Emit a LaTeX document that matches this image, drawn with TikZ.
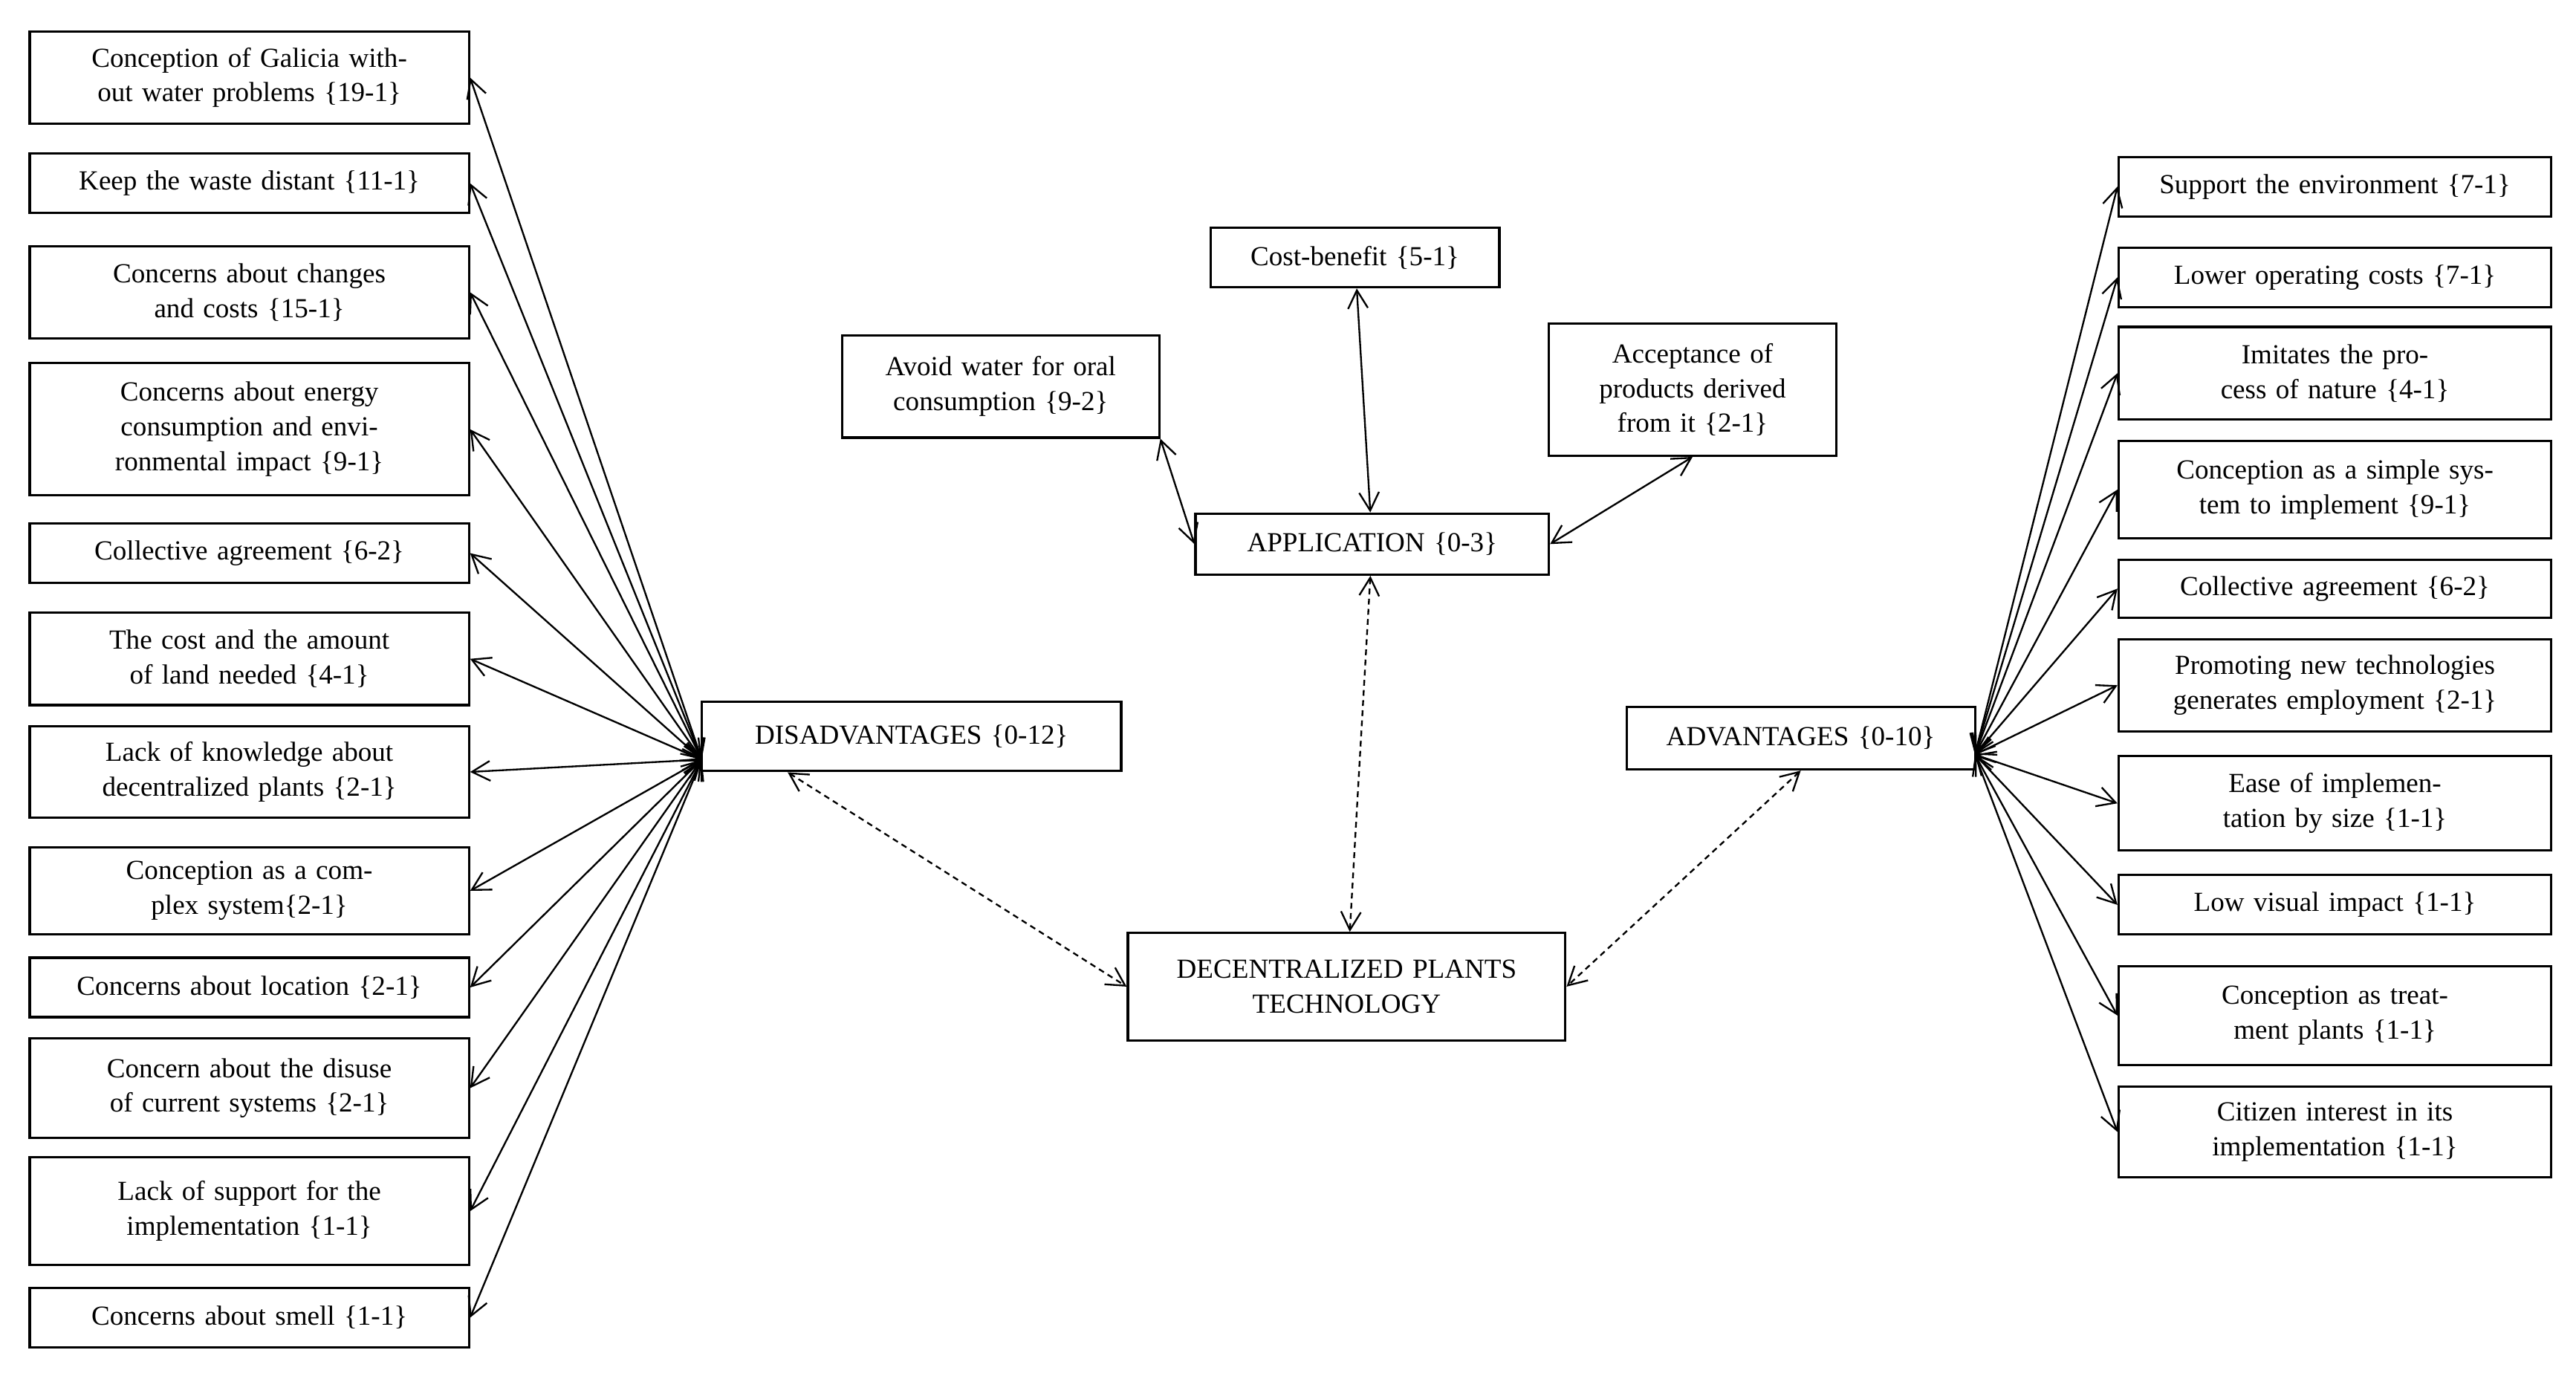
\documentclass[tikz,border=0pt]{standalone}
\usepackage{fontspec}
\setmainfont{Liberation Serif}
\usetikzlibrary{positioning}
\usetikzlibrary{arrows.meta}
\tikzset{
box/.style 2 args={draw,rectangle,thick,align=center,minimum width=#1,text width=#1-0.5cm,minimum height=#2,inner sep=1pt,font=\fontsize{9.5}{12}\selectfont},
link/.style={{Straight Barb[length=2.2mm,width=2.4mm]}-{Straight Barb[length=2.2mm,width=2.4mm]},semithick},
dlink/.style={link,dashed,dash pattern=on 2pt off 1.5pt},
}
\begin{document}
\begin{tikzpicture}
\useasboundingbox (0,0) rectangle (31.2,-16.66);
%Place the nodes
\node[box={5.08cm}{0.84cm}] (dis) at (11.04,-8.92) {DISADVANTAGES \{0-12\}};
\node[box={4.22cm}{0.76cm}] (adv) at (21.81,-8.94) {ADVANTAGES \{0-10\}};
\node[box={4.28cm}{0.74cm}] (app) at (16.62,-6.59) {APPLICATION \{0-3\}};
\node[box={5.3cm}{1.3cm}] (dec) at (16.31,-11.95) {DECENTRALIZED PLANTS\\TECHNOLOGY};
\node[box={3.5cm}{0.72cm}] (cost) at (16.41,-3.12) {Cost-benefit \{5-1\}};
\node[box={3.84cm}{1.24cm}] (avoid) at (12.12,-4.68) {Avoid water for oral consumption \{9-2\}};
\node[box={3.48cm}{1.6cm}] (accept) at (20.5,-4.72) {Acceptance of products derived from it \{2-1\}};
\coordinate (hubL) at (8.5,-9.2);
\coordinate (hubR) at (23.92,-9.14);

%left column
\foreach \y/\h/\t [count=\i] in {
-0.94/1.12/Conception of Galicia without water problems \{19-1\},
-2.22/0.72/Keep the waste distant \{11-1\},
-3.54/1.12/Concerns about changes and costs \{15-1\},
-5.2/1.6/Concerns about energy consumption and environmental impact \{9-1\},
-6.7/0.72/Collective agreement \{6-2\},
-7.98/1.12/The cost and the amount of land needed \{4-1\},
-9.35/1.1/Lack of knowledge about decentralized plants \{2-1\},
-10.79/1.06/Conception as a complex system\{2-1\},
-11.96/0.72/Concerns about location \{2-1\},
-13.18/1.2/Concern about the disuse of current systems \{2-1\},
-14.67/1.3/Lack of support for the implementation \{1-1\},
-15.96/0.72/Concerns about smell \{1-1\}} {
	\node[box={5.32cm}{\h cm}] (dl\i) at (3.02,\y) {\t};
	\draw[link] (hubL) to (dl\i.east);
}

%right column
\foreach \y/\h/\t [count=\i] in {
-2.26/0.72/Support the environment \{7-1\},
-3.36/0.72/Lower operating costs \{7-1\},
-4.52/1.12/Imitates the process of nature \{4-1\},
-5.93/1.18/Conception as a simple system to implement \{9-1\},
-7.13/0.7/Collective agreement \{6-2\},
-8.3/1.12/Promoting new technologies generates employment \{2-1\},
-9.73/1.14/Ease of implementation by size \{1-1\},
-10.96/0.72/Low visual impact \{1-1\},
-12.3/1.2/Conception as treatment plants \{1-1\},
-13.71/1.1/Citizen interest in its implementation \{1-1\}} {
	\node[box={5.24cm}{\h cm}] (ar\i) at (28.28,\y) {\t};
	\draw[link] (hubR) to (ar\i.west);
}

%center
\draw[link] (cost) to (app);
\draw[link] (avoid.south east) to (app.west);
\draw[link] (accept.south) to (app.east);
\draw[dlink] (app) to (dec);
\draw[dlink] ([xshift=-1.5cm]dis.south) to (dec.west);
\draw[dlink] (adv.south) to (dec.east);
\end{tikzpicture}
\end{document}
